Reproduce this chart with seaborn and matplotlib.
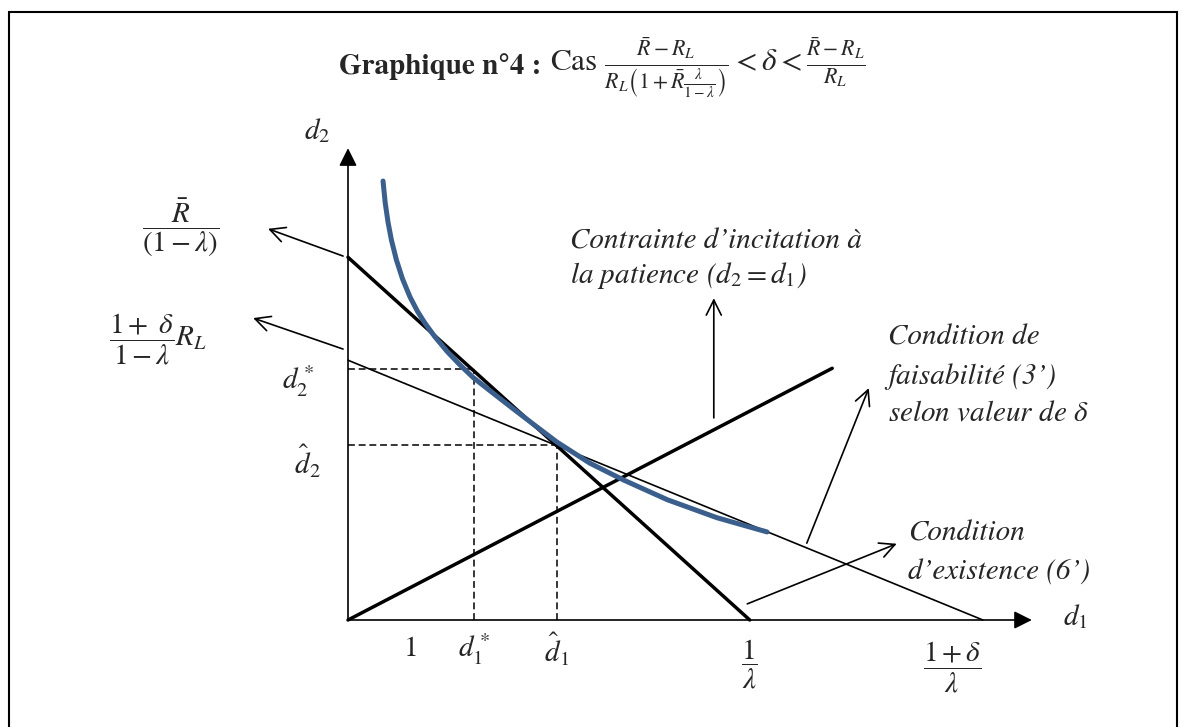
import numpy as np
import pandas as pd
import matplotlib
matplotlib.use("Agg")
import matplotlib.pyplot as plt
from matplotlib.patches import Rectangle
import seaborn as sns

# COURBE BLEUE
courbe_d1 = [0.565, 0.60, 0.645, 0.70, 0.78, 0.88, 1.0, 1.12, 1.24, 1.40, 1.60, 1.80, 2.02,
             2.30, 2.66, 3.0, 3.37, 3.90, 4.44, 5.15, 5.95, 6.76]
courbe_d2 = [7.08, 6.73, 6.42, 6.13, 5.81, 5.50, 5.21, 4.98, 4.79, 4.57, 4.33, 4.12, 3.91,
             3.69, 3.41, 3.15, 2.87, 2.53, 2.26, 1.94, 1.65, 1.42]

# DROITES
budget_d1 = [0, 6.48]       # de R/(1-lambda) jusqu'a 1/lambda
budget_d2 = [5.85, 0]
faisab_d1 = [0, 10.24]      # condition de faisabilite (3')
faisab_d2 = [4.19, 0]
incit_d1 = [0, 7.81]        # d2 = d1
incit_d2 = [0, 4.06]

# POINTS PARTICULIERS
d1_etoile, d2_etoile = 2.03, 4.05
d1_chap, d2_chap = 3.37, 2.82
un_lambda = 6.48
un_delta_lambda = 10.24

# AXES
axe_x_max = 11.03
axe_y_max = 7.61

# FLECHES (queue, tete)
fleches = [
    ((-0.08, 5.87), (-1.29, 6.31)),
    ((-0.08, 4.37), (-1.53, 4.87)),
    ((5.90, 3.26), (5.90, 5.19)),
    ((7.40, 1.24), (8.40, 3.74)),
    ((6.44, 0.26), (8.85, 1.23)),
]

sns.set_theme(style="white")
plt.rcParams["font.family"] = ["STIXGeneral", "DejaVu Serif"]
plt.rcParams["mathtext.fontset"] = "stix"

fig = plt.figure(figsize=(11.86, 7.27), dpi=100)
ax = fig.add_axes([0, 0, 1, 1])
ax.set_xlim(-348 / 62, (1186 - 348) / 62)
ax.set_ylim((620 - 727) / 62, 620 / 62)
ax.axis("off")

# cadre
fig.add_artist(Rectangle((9 / 1186, -0.05), (1177 - 9) / 1186, (727 - 12) / 727 + 0.05,
                         fill=False, lw=1.5, ec="black", transform=fig.transFigure))

# axes avec fleches pleines
for fin in [(axe_x_max, 0), (0, axe_y_max)]:
    ax.annotate("", xy=fin, xytext=(0, 0),
                arrowprops=dict(arrowstyle="-|>,head_length=0.9,head_width=0.45",
                                mutation_scale=12, lw=1.2, color="black",
                                shrinkA=0, shrinkB=0))

# pointilles
tirets = (0, (4.5, 2.5))
ax.plot([0, d1_etoile], [d2_etoile, d2_etoile], color="black", lw=1.1, ls=tirets)
ax.plot([d1_etoile, d1_etoile], [0, d2_etoile], color="black", lw=1.1, ls=tirets)
ax.plot([0, d1_chap], [d2_chap, d2_chap], color="black", lw=1.1, ls=tirets)
ax.plot([d1_chap, d1_chap], [0, d2_chap], color="black", lw=1.1, ls=tirets)

# droites
sns.lineplot(x=faisab_d1, y=faisab_d2, ax=ax, color="black", lw=1.2)
sns.lineplot(x=budget_d1, y=budget_d2, ax=ax, color="black", lw=2.5)
sns.lineplot(x=incit_d1, y=incit_d2, ax=ax, color="black", lw=2.5)

# courbe
df_courbe = pd.DataFrame({"d1": courbe_d1, "d2": courbe_d2})
sns.lineplot(data=df_courbe, x="d1", y="d2", ax=ax, sort=False, estimator=None,
             color="#3b5f8c", lw=3.6, zorder=5, solid_joinstyle="round")

# fleches d'annotation
for queue, tete in fleches:
    ax.annotate("", xy=tete, xytext=queue,
                arrowprops=dict(arrowstyle="->", mutation_scale=27, lw=1.2,
                                color="black", shrinkA=0, shrinkB=0))

fs = 21
# etiquettes des axes
ax.text(-0.5, 7.9, r"$d_2$", fontsize=fs, ha="center", va="center")
ax.text(11.53, 0.05, r"$d_1$", fontsize=fs, ha="left", va="center")
ax.text(1.0, -0.47, r"$1$", fontsize=fs, ha="center", va="center")
ax.text(d1_etoile, -0.47, r"$d_1^*$", fontsize=fs, ha="center", va="center")
ax.text(d1_chap, -0.47, r"$\hat{d}_1$", fontsize=fs, ha="center", va="center")
ax.text(un_lambda, -0.72, r"$\dfrac{1}{\lambda}$", fontsize=fs, ha="center", va="center")
ax.text(9.74, -0.77, r"$\dfrac{1+\delta}{\lambda}$", fontsize=fs, ha="center", va="center")
ax.text(-0.81, 3.85, r"$d_2^*$", fontsize=fs, ha="center", va="center")
ax.text(-0.65, 2.55, r"$\hat{d}_2$", fontsize=fs, ha="center", va="center")
ax.text(-2.69, 6.32, r"$\dfrac{\bar{R}}{(1-\lambda)}$", fontsize=fs, ha="center", va="center")
ax.text(-3.07, 4.52, r"$\dfrac{1+\ \delta}{1-\lambda}R_L$", fontsize=fs, ha="center", va="center")

# textes
ax.text(3.58, 6.10, "Contrainte d’incitation à", fontsize=fs, style="italic", ha="left", va="center")
ax.text(3.58, 5.56, r"la patience ($d_2 = d_1$)", fontsize=fs, style="italic", ha="left", va="center")
ax.text(8.71, 4.56, "Condition de", fontsize=fs, style="italic", ha="left", va="center")
ax.text(8.71, 3.92, "faisabilité (3’)", fontsize=fs, style="italic", ha="left", va="center")
ax.text(8.71, 3.34, r"selon valeur de $\delta$", fontsize=fs, style="italic", ha="left", va="center")
ax.text(9.03, 1.40, "Condition", fontsize=fs, style="italic", ha="left", va="center")
ax.text(9.03, 0.77, "d’existence (6’)", fontsize=fs, style="italic", ha="left", va="center")

# titre
fig.text(541 / 1186, 1 - 67 / 727, "Graphique n°4 :", fontsize=21, fontweight="bold",
         ha="right", va="center")
fig.text(550 / 1186, 1 - 67 / 727,
         r"Cas $\frac{\bar{R}-R_L}{R_L\left(1+\bar{R}\frac{\lambda}{1-\lambda}\right)} < \delta < \frac{\bar{R}-R_L}{R_L}$",
         fontsize=22.5, ha="left", va="center")

fig.savefig("out.png", dpi=100)
